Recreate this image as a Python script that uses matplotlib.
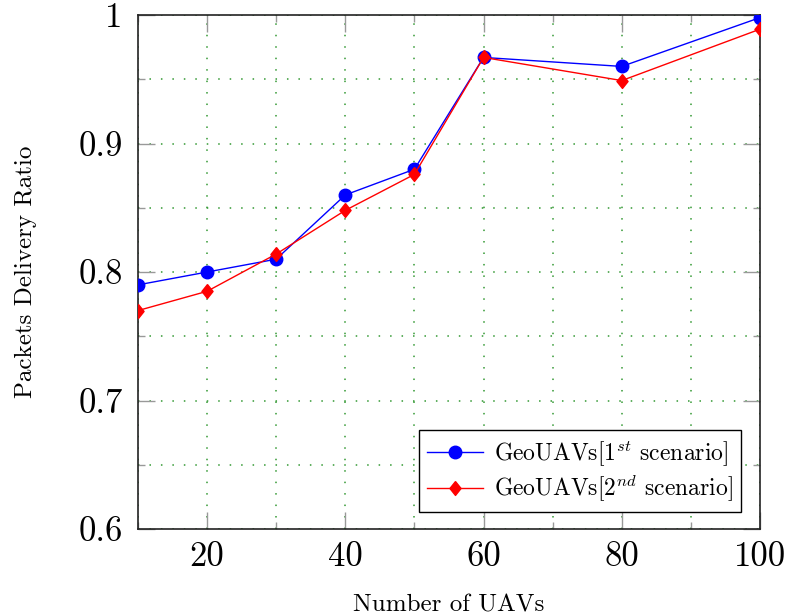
import matplotlib
matplotlib.use("Agg")
import matplotlib.pyplot as plt
from matplotlib.ticker import MultipleLocator

plt.rcParams['font.family'] = 'serif'
plt.rcParams['font.serif'] = ['cmr10']
plt.rcParams['mathtext.fontset'] = 'cm'
plt.rcParams['axes.formatter.use_mathtext'] = True

uavs = [10, 20, 30, 40, 50, 60, 80, 100]
pdr_first = [0.790, 0.800, 0.810, 0.860, 0.880, 0.967, 0.960, 0.998]
pdr_second = [0.770, 0.785, 0.814, 0.848, 0.876, 0.967, 0.949, 0.989]

x_ticks = [20, 40, 60, 80, 100]
y_ticks = [0.6, 0.7, 0.8, 0.9, 1.0]
y_tick_labels = ['0.6', '0.7', '0.8', '0.9', '1']

# pgfplots-style diamond (a bit taller than wide)
diamond = [(0, 1), (0.8, 0), (0, -1), (-0.8, 0), (0, 1)]

fig = plt.figure(figsize=(7.87, 6.16), dpi=100)
ax = fig.add_axes([0.1753, 0.1412, 0.7904, 0.8344])

ax.plot(uavs, pdr_first, color='blue', lw=1, marker='o', markersize=9,
        label='GeoUAVs[1$^{st}$ scenario]', zorder=3)
ax.plot(uavs, pdr_second, color='red', lw=1, marker=diamond, markersize=10,
        label='GeoUAVs[2$^{nd}$ scenario]', zorder=4)

ax.set_xlim(10, 100)
ax.set_ylim(0.6, 1.0)
ax.set_xticks(x_ticks)
ax.set_xticklabels([str(v) for v in x_ticks])
ax.set_yticks(y_ticks)
ax.set_yticklabels(y_tick_labels)
ax.xaxis.set_minor_locator(MultipleLocator(10))
ax.yaxis.set_minor_locator(MultipleLocator(0.05))

ax.tick_params(which='major', direction='in', length=12, width=1, color='#999999',
               labelsize=25, top=True, right=True)
ax.tick_params(axis='y', which='major', pad=11)
ax.tick_params(axis='x', which='major', pad=9)
ax.tick_params(which='minor', direction='in', length=5, width=1, color='#999999',
               top=True, right=True)

ax.grid(True, which='both', color=(0.2, 0.6, 0.2), linestyle=(0, (1, 6.5)), lw=1.1)
ax.set_axisbelow(True)

for s in ax.spines.values():
    s.set_linewidth(1.2)
    s.set_color('#222222')

ax.set_xlabel('Number of UAVs', fontsize=18, labelpad=15)
ax.set_ylabel('Packets Delivery Ratio', fontsize=18, labelpad=30)

leg = ax.legend(loc='lower right', fontsize=17, fancybox=False, framealpha=1,
                edgecolor='black', borderpad=0.35, labelspacing=0.2,
                handlelength=2.4, handletextpad=0.45, borderaxespad=0,
                bbox_to_anchor=(0.97, 0.033))
leg.get_frame().set_linewidth(1)

fig.savefig('out.png', dpi=100)
